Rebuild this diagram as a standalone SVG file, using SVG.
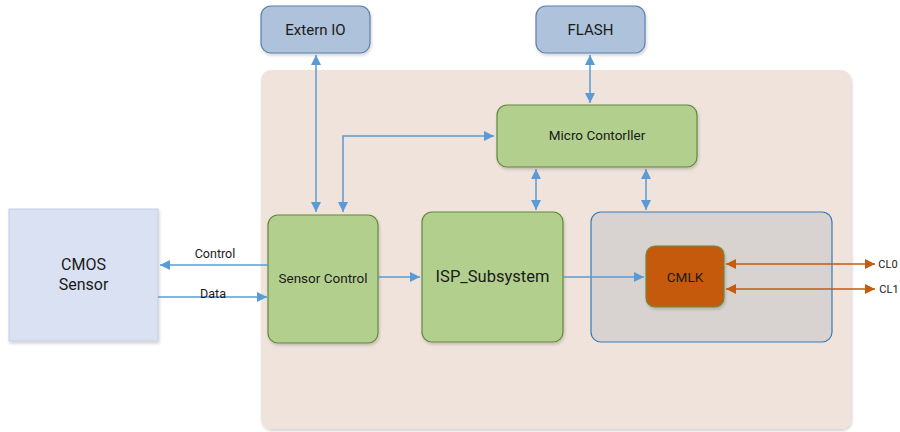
<svg xmlns="http://www.w3.org/2000/svg" width="900" height="432" viewBox="0 0 900 432">
  <defs>
    <filter id="shadow" x="-10%" y="-10%" width="130%" height="130%">
      <feDropShadow dx="1" dy="2" stdDeviation="1.5" flood-color="#000" flood-opacity="0.18"/>
    </filter>
    <marker id="ab" viewBox="0 0 10 10" refX="10" refY="5" markerWidth="10" markerHeight="10" markerUnits="userSpaceOnUse" orient="auto-start-reverse">
      <path d="M0,0 L10,5 L0,10 z" fill="#5B9BD5"/>
    </marker>
    <marker id="ao" viewBox="0 0 10 10" refX="10" refY="5" markerWidth="10" markerHeight="10" markerUnits="userSpaceOnUse" orient="auto-start-reverse">
      <path d="M0,0 L10,5 L0,10 z" fill="#C55A11"/>
    </marker>
  </defs>
  <style>
    text { font-family: Roboto, "Liberation Sans", sans-serif; fill: #1a1a1a; text-anchor: middle; }
    .ext { fill: #AEC2DB; stroke: #5B80AE; stroke-width: 1.2; }
    .grn { fill: #B3CF8E; stroke: #62893A; stroke-width: 1.2; }
    .blue { fill: none; stroke: #5B9BD5; stroke-width: 1.5; }
    .org { fill: none; stroke: #C55A11; stroke-width: 1.5; }
  </style>

  <!-- system background -->
  <g id="system">
    <rect x="261" y="70" width="590" height="359" rx="10" fill="#EFE3DC" filter="url(#shadow)"/>
  </g>

  <g id="extern-io">
    <rect class="ext" x="261" y="6" width="109" height="47" rx="10" filter="url(#shadow)"/>
    <text x="315.5" y="35" font-size="15">Extern IO</text>
  </g>

  <g id="flash">
    <rect class="ext" x="536" y="6" width="109" height="47" rx="10" filter="url(#shadow)"/>
    <text x="590.5" y="35" font-size="15">FLASH</text>
  </g>

  <g id="cmos-sensor">
    <rect x="9" y="209" width="149" height="132" fill="#DAE1F2" stroke="#C3CEE2" stroke-width="1" filter="url(#shadow)"/>
    <text x="83.5" y="270" font-size="16">CMOS</text>
    <text x="83.5" y="290" font-size="16">Sensor</text>
  </g>

  <g id="micro-controller">
    <rect class="grn" x="497" y="105" width="200" height="62" rx="10" filter="url(#shadow)"/>
    <text x="597" y="140" font-size="13.5">Micro Contorller</text>
  </g>

  <g id="sensor-control">
    <rect class="grn" x="268" y="215" width="110" height="128" rx="10" filter="url(#shadow)"/>
    <text x="323" y="283" font-size="13.5">Sensor Control</text>
  </g>

  <g id="isp-subsystem">
    <rect class="grn" x="422" y="212" width="141" height="130" rx="10" filter="url(#shadow)"/>
    <text x="492.5" y="282" font-size="16.5">ISP_Subsystem</text>
  </g>

  <g id="clock-block">
    <rect x="591" y="212" width="241" height="130" rx="10" fill="#D8D3D0" stroke="#3B78B5" stroke-width="1.2"/>
  </g>

  <g id="cmlk">
    <rect x="646" y="246" width="78" height="61" rx="9" fill="#C55A11" stroke="#6B8A3A" stroke-width="1.2" filter="url(#shadow)"/>
    <text x="685" y="282" font-size="13.5">CMLK</text>
  </g>

  <g id="connectors">
    <!-- Extern IO <-> Sensor Control -->
    <line class="blue" x1="316" y1="55" x2="316" y2="212" marker-start="url(#ab)" marker-end="url(#ab)"/>
    <!-- Micro Controller <-> Sensor Control -->
    <polyline class="blue" points="343,212 343,136 494,136" marker-start="url(#ab)" marker-end="url(#ab)"/>
    <!-- FLASH <-> Micro Controller -->
    <line class="blue" x1="590" y1="55" x2="590" y2="103" marker-start="url(#ab)" marker-end="url(#ab)"/>
    <!-- Micro Controller <-> ISP -->
    <line class="blue" x1="536" y1="169" x2="536" y2="210" marker-start="url(#ab)" marker-end="url(#ab)"/>
    <!-- Micro Controller <-> clock block -->
    <line class="blue" x1="646" y1="169" x2="646" y2="210" marker-start="url(#ab)" marker-end="url(#ab)"/>
    <!-- Sensor Control -> CMOS -->
    <line class="blue" x1="268" y1="265" x2="160" y2="265" marker-end="url(#ab)"/>
    <text x="215" y="258" font-size="12.5">Control</text>
    <!-- CMOS -> Sensor Control -->
    <line class="blue" x1="158" y1="297" x2="267" y2="297" marker-end="url(#ab)"/>
    <text x="213" y="298" font-size="12.5">Data</text>
    <!-- Sensor Control -> ISP -->
    <line class="blue" x1="378" y1="277" x2="420" y2="277" marker-end="url(#ab)"/>
    <!-- ISP -> CMLK -->
    <line class="blue" x1="563" y1="277" x2="644" y2="277" marker-end="url(#ab)"/>
    <!-- CMLK <-> CL0 / CL1 -->
    <line class="org" x1="726" y1="264" x2="875" y2="264" marker-start="url(#ao)" marker-end="url(#ao)"/>
    <line class="org" x1="726" y1="289" x2="875" y2="289" marker-start="url(#ao)" marker-end="url(#ao)"/>
    <text x="888" y="268" font-size="11">CL0</text>
    <text x="889" y="293" font-size="11">CL1</text>
  </g>
</svg>
